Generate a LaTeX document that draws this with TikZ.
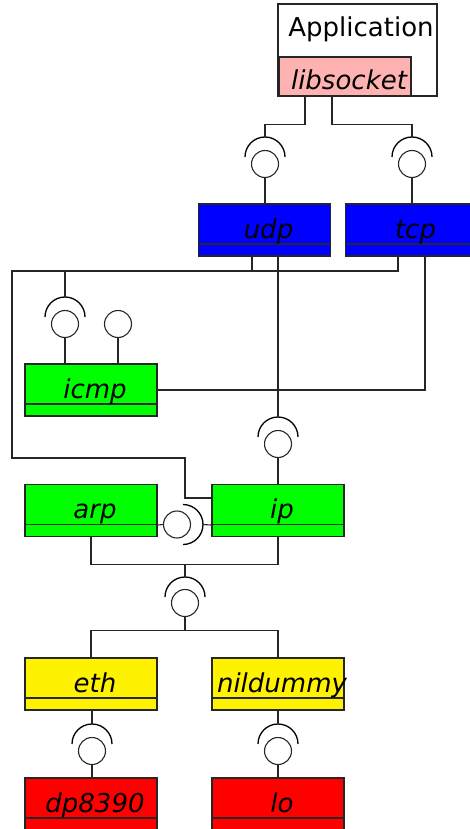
\documentclass[tikz,border=0pt]{standalone}
\usepackage{fontspec}
\setmainfont{DejaVu Sans}
\usetikzlibrary{positioning,calc}

\begin{document}
\begin{tikzpicture}[x=1pt,y=-1pt]

 \tikzset{
   box/.style={rectangle, draw=black!85, line width=1.1pt, minimum width=132pt, inner sep=0pt, font=\fontsize{26}{30}\selectfont\itshape,
     execute at begin node={\kern4pt}, execute at end node={\kern-4pt}},
   comp/.style={box, minimum height=52pt, text height=22pt, text depth=6pt,
     path picture={\draw[black!85, line width=1.1pt] ([yshift=12pt]path picture bounding box.south west) -- ([yshift=12pt]path picture bounding box.south east);}},
   ball/.style={circle, draw=black!85, line width=1.1pt, fill=white, minimum size=27pt, inner sep=0pt},
   socket/.style={black, line width=1.3pt},
   wire/.style={black!85, line width=1.1pt}
 }

 \useasboundingbox (0,0) rectangle (469,829);

 % Application with its library
 \node[draw=black!85, line width=1.1pt, minimum width=159pt, minimum height=92pt,
       label={[name=app_lbl, anchor=base, xshift=3.5pt, yshift=-33pt, font=\fontsize{26}{30}\selectfont]north:Application}] (app) at (357.5,50) {};
 \node[box, fill=red!30, minimum height=39pt, text height=33pt, text depth=6pt] (libsocket) at (345,76.5) {libsocket};

 % Components
 \node[comp, fill=blue] (udp) at (264.5,230) {udp};
 \node[comp, fill=blue] (tcp) at (411.5,230) {tcp};
 \node[comp, fill=green] (icmp) at (91,390) {icmp};
 \node[comp, fill=green] (arp) at (91,510.5) {arp};
 \node[comp, fill=green] (ip) at (278,510.5) {ip};
 \node[comp, fill=yellow] (eth) at (91,684) {eth};
 \node[comp, fill=yellow] (nildummy) at (278,684) {nildummy};
 \node[comp, fill=red] (dp8390) at (91,804) {dp8390};
 \node[comp, fill=red] (lo) at (278,804) {lo};

 % Provided interfaces (balls)
 \node[ball] (b_udp) at (265,164) {};
 \node[ball] (b_tcp) at (412,164) {};
 \node[ball] (b_icmp_a) at (65,324) {};
 \node[ball] (b_icmp_b) at (118,324) {};
 \node[ball] (b_ip) at (278,444) {};
 \node[ball] (b_arp) at (177,524.5) {};
 \node[ball] (b_link) at (185,603) {};
 \node[ball] (b_eth) at (92,751) {};
 \node[ball] (b_nil) at (278,751) {};

 % Required interfaces (sockets)
 \coordinate (s_udp) at (265,157);
 \coordinate (s_tcp) at (412,157);
 \coordinate (s_icmp) at (65,317);
 \coordinate (s_ip) at (278,437);
 \coordinate (s_arp) at (183,524.5);
 \coordinate (s_link) at (185,597);
 \coordinate (s_eth) at (92,744);
 \coordinate (s_nil) at (278,744);

 \foreach \s in {s_udp,s_tcp,s_icmp,s_ip,s_link,s_eth,s_nil}
   \draw[socket] ([xshift=20pt]\s) arc[start angle=0, end angle=180, radius=20pt];
 \draw[socket] ([yshift=-20pt]s_arp) arc[start angle=-90, end angle=90, radius=20pt];

 % libsocket to transport
 \draw[wire] ([xshift=-40pt]libsocket.south) -- ++(0,28) -| ([yshift=20pt]s_udp);
 \draw[wire] ([xshift=-13pt]libsocket.south) -- ++(0,28) -| ([yshift=20pt]s_tcp);
 \draw[wire] (b_udp.south) -- (b_udp |- udp.north);
 \draw[wire] (b_tcp.south) -- (b_tcp |- tcp.north);

 % transport to network
 \draw[wire] ([xshift=-13.5pt]tcp.south) |- (12,271) |- (185,458) |- ([yshift=12.5pt]ip.west);
 \draw[wire] ([xshift=-12.5pt]udp.south) -- ++(0,15);
 \draw[wire] (s_icmp |- 0,271) -- ([yshift=20pt]s_icmp);
 \draw[wire] ([xshift=13.5pt]udp.south) -- ([yshift=20pt]s_ip);
 \draw[wire] ([xshift=13.5pt]tcp.south) |- (icmp.east);
 \draw[wire] (b_icmp_a.south) -- (b_icmp_a |- icmp.north);
 \draw[wire] (b_icmp_b.south) -- (b_icmp_b |- icmp.north);
 \draw[wire] (b_ip.south) -- (ip.north);

 % arp and ip
 \draw[wire] ([yshift=12pt]arp.south east) -- (b_arp.west);
 \draw[wire] ([xshift=20pt]s_arp) -- ([yshift=12pt]ip.south west);

 % network to link layer
 \draw[wire] (arp.south) -- ++(0,27.5) -| (ip.south);
 \draw[wire] (s_link |- 0,564) -- ([yshift=20pt]s_link);
 \draw[wire] (b_link.south) -- (b_link |- 0,631);
 \draw[wire] (eth.north) -- ++(0,-27) -| (nildummy.north);

 % link layer to drivers
 \draw[wire] (s_eth |- eth.south) -- ([yshift=20pt]s_eth);
 \draw[wire] (b_eth.south) -- (b_eth |- dp8390.north);
 \draw[wire] (nildummy.south) -- ([yshift=20pt]s_nil);
 \draw[wire] (b_nil.south) -- (lo.north);

\end{tikzpicture}
\end{document}
